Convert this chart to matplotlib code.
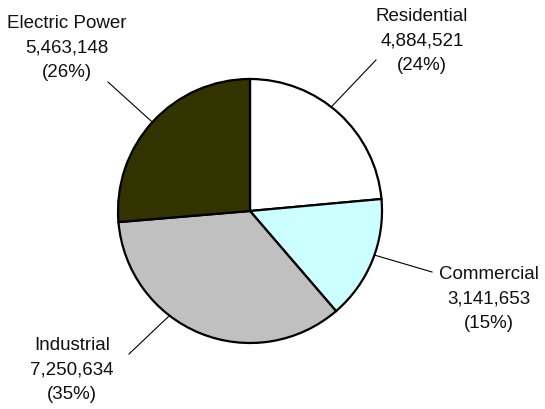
import matplotlib
matplotlib.use('Agg')
import matplotlib.pyplot as plt
import numpy as np

plt.rcParams['font.family'] = ['Liberation Sans', 'DejaVu Sans']

sectors = ['Residential', 'Commercial', 'Industrial', 'Electric Power']
values = [4884521, 3141653, 7250634, 5463148]
percents = ['24%', '15%', '35%', '26%']
colors = ['#FFFFFF', '#CCFFFF', '#C0C0C0', '#333300']

# label placement (pixel space, y down), leader line start and the angle it hits the rim
label_pos = [(422, 41), (489, 299), (72, 370), (67, 48)]
line_start = [(376, 61), (432, 273), (129, 355), (108, 83)]
rim_angle = [52, -19.5, 232.4, 137.7]

W, H = 545, 410
fig = plt.figure(figsize=(W / 100, H / 100), dpi=100)
ax = fig.add_axes([0, 0, 1, 1])

cx, cy, r = 250, H - 212, 132
wedges, _ = ax.pie(values, colors=colors, startangle=90, counterclock=False,
                   center=(cx, cy), radius=r, frame=True,
                   wedgeprops=dict(edgecolor='black', linewidth=1.6))
ax.set_xlim(0, W)
ax.set_ylim(0, H)
ax.set_aspect('equal')
ax.axis('off')

for name, v, p, (tx, ty), (lx, ly), a in zip(sectors, values, percents,
                                             label_pos, line_start, rim_angle):
    a = np.deg2rad(a)
    ex, ey = cx + r * np.cos(a), cy + r * np.sin(a)
    ax.plot([lx, ex], [H - ly, ey], color='black', lw=0.8, zorder=0.5)
    ax.text(tx, H - ty, f'{name}\n{v:,}\n({p})', ha='center', va='center',
            fontsize=13.5, linespacing=1.57, color='#111111')

fig.savefig('out.png', dpi=100)
